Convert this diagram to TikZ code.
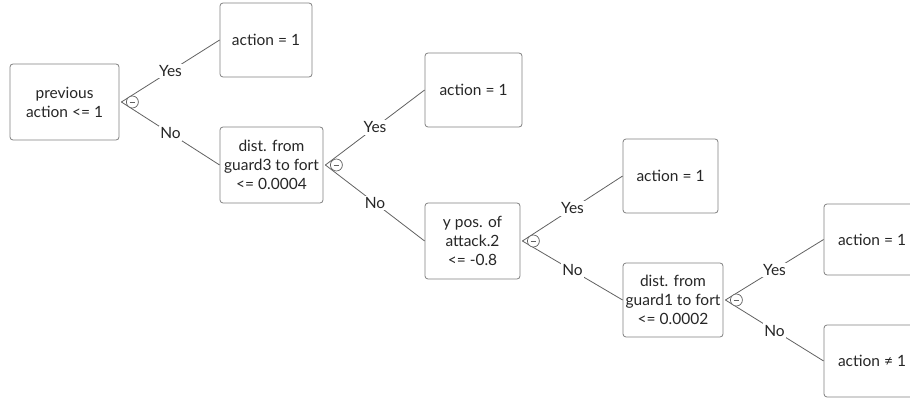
\documentclass[tikz,border=0pt]{standalone}
\usepackage{fontspec}
\setmainfont{Lato}
\begin{document}
\begin{tikzpicture}[x=1pt,y=-1pt,
  box/.style={draw=black!50,line width=0.8pt,rounded corners=3pt,fill=white,align=center,
    text=black!85,font=\fontsize{15.5}{19}\selectfont,inner sep=0pt},
  conn/.style={draw=black!62,line width=0.8pt},
  lbl/.style={fill=white,inner sep=1.5pt,text=black!85,font=\fontsize{15.5}{18}\selectfont},
  tog/.style={draw=black!62,line width=0.7pt,circle,minimum size=12pt,inner sep=0pt,fill=white}]
\useasboundingbox (0,0) rectangle (910,398);
\clip (0,0) rectangle (910,398);
% nodes
\node[box,minimum width=109pt,minimum height=76pt] (root) at (64.5,102) {previous\\action <= 1};
\node[box,minimum width=92pt,minimum height=74pt] (a1) at (266,40) {action = 1};
\node[box,minimum width=103pt,minimum height=76pt] (d3) at (271.5,165) {dist. from\\guard3 to fort\\<= 0.0004};
\node[box,minimum width=97pt,minimum height=74pt] (a2) at (473.5,90) {action = 1};
\node[box,minimum width=95pt,minimum height=76pt] (yp) at (472.5,241) {y pos. of\\attack.2\\<= -0.8};
\node[box,minimum width=95pt,minimum height=74pt] (a3) at (670.5,176) {action = 1};
\node[box,minimum width=100pt,minimum height=74pt] (d1) at (673,300) {dist. from\\guard1 to fort\\<= 0.0002};
\node[box,minimum width=96pt,minimum height=71pt] (a4) at (872,239.5) {action = 1};
\node[box,minimum width=96pt,minimum height=72pt] (an) at (872,361) {action \char"2260{} 1};
% fork points
\coordinate (f0) at ([xshift=2pt]root.east);
\coordinate (f1) at ([xshift=2pt]d3.east);
\coordinate (f2) at ([xshift=2pt]yp.east);
\coordinate (f3) at ([xshift=2pt]d1.east);
% connectors
\draw[conn] (f0) -- node[lbl,pos=0.5] {Yes} (a1.west);
\draw[conn] (f0) -- node[lbl,pos=0.5] {No} (d3.west);
\draw[conn] (f1) -- node[lbl,pos=0.5] {Yes} (a2.west);
\draw[conn] (f1) -- node[lbl,pos=0.5] {No} (yp.west);
\draw[conn] (f2) -- node[lbl,pos=0.5] {Yes} (a3.west);
\draw[conn] (f2) -- node[lbl,pos=0.5] {No} (d1.west);
\draw[conn] (f3) -- node[lbl,pos=0.5] {Yes} (a4.west);
\draw[conn] (f3) -- node[lbl,pos=0.5] {No} (an.west);
% collapse toggles
\foreach \n in {root,d3,yp,d1}{
  \node[tog] (t\n) at ([xshift=13pt]\n.east) {};
  \draw[black!62,line width=0.7pt] ([xshift=-2.8pt]t\n.center) -- ([xshift=2.8pt]t\n.center);
}
\end{tikzpicture}
\end{document}
